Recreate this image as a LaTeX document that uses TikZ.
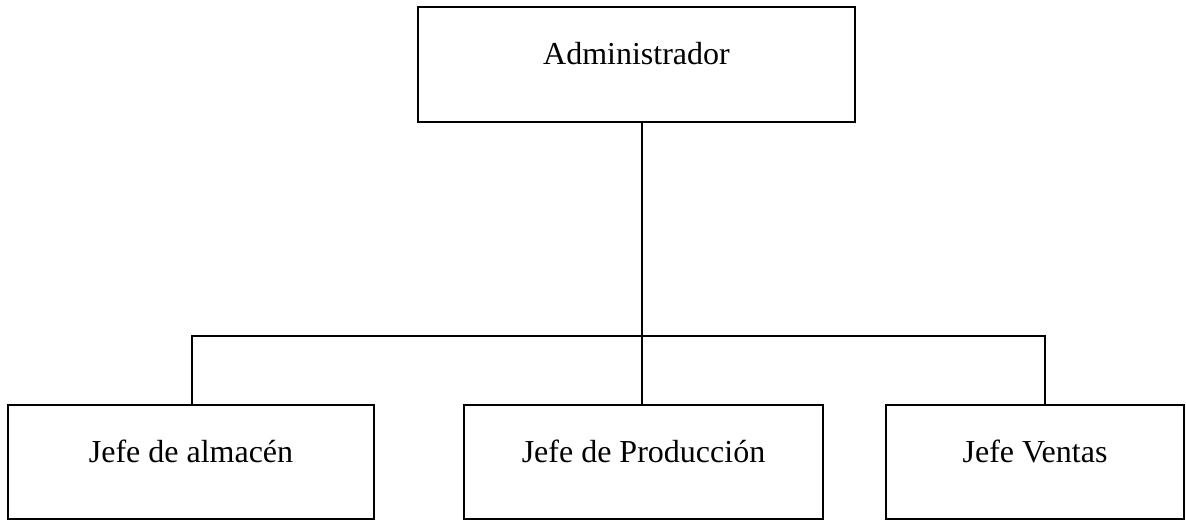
\documentclass[tikz,border=0pt]{standalone}
\usepackage{fontspec}
\setmainfont{Liberation Serif}
\begin{document}
\begin{tikzpicture}[x=1pt,y=1pt,
  orgbox/.style={draw=black, line width=2pt, rectangle, inner sep=0pt,
    text height=20pt, text depth=20pt, font=\fontsize{32}{38}\selectfont},
  conn/.style={draw=black, line width=2pt}]
\useasboundingbox (0,0) rectangle (1186,520);
\node[orgbox, minimum width=437pt, minimum height=115pt] (adm) at (636.5,455.5) {Administrador};
\node[orgbox, minimum width=366pt, minimum height=114pt] (alm) at (191,58) {Jefe de almacén};
\node[orgbox, minimum width=359pt, minimum height=114pt] (prod) at (643.5,58) {Jefe de Producción};
\node[orgbox, minimum width=298pt, minimum height=114pt] (ven) at (1035,58) {Jefe Ventas};
\coordinate (vx) at (642,0);
\coordinate (hl) at (192,184);
\coordinate (hr) at (1045,184);
\draw[conn] (adm.south -| vx) -- (prod.north -| vx);
\draw[conn] (hl |- alm.north) -- (hl) -- (hr) -- (hr |- ven.north);
\end{tikzpicture}
\end{document}
